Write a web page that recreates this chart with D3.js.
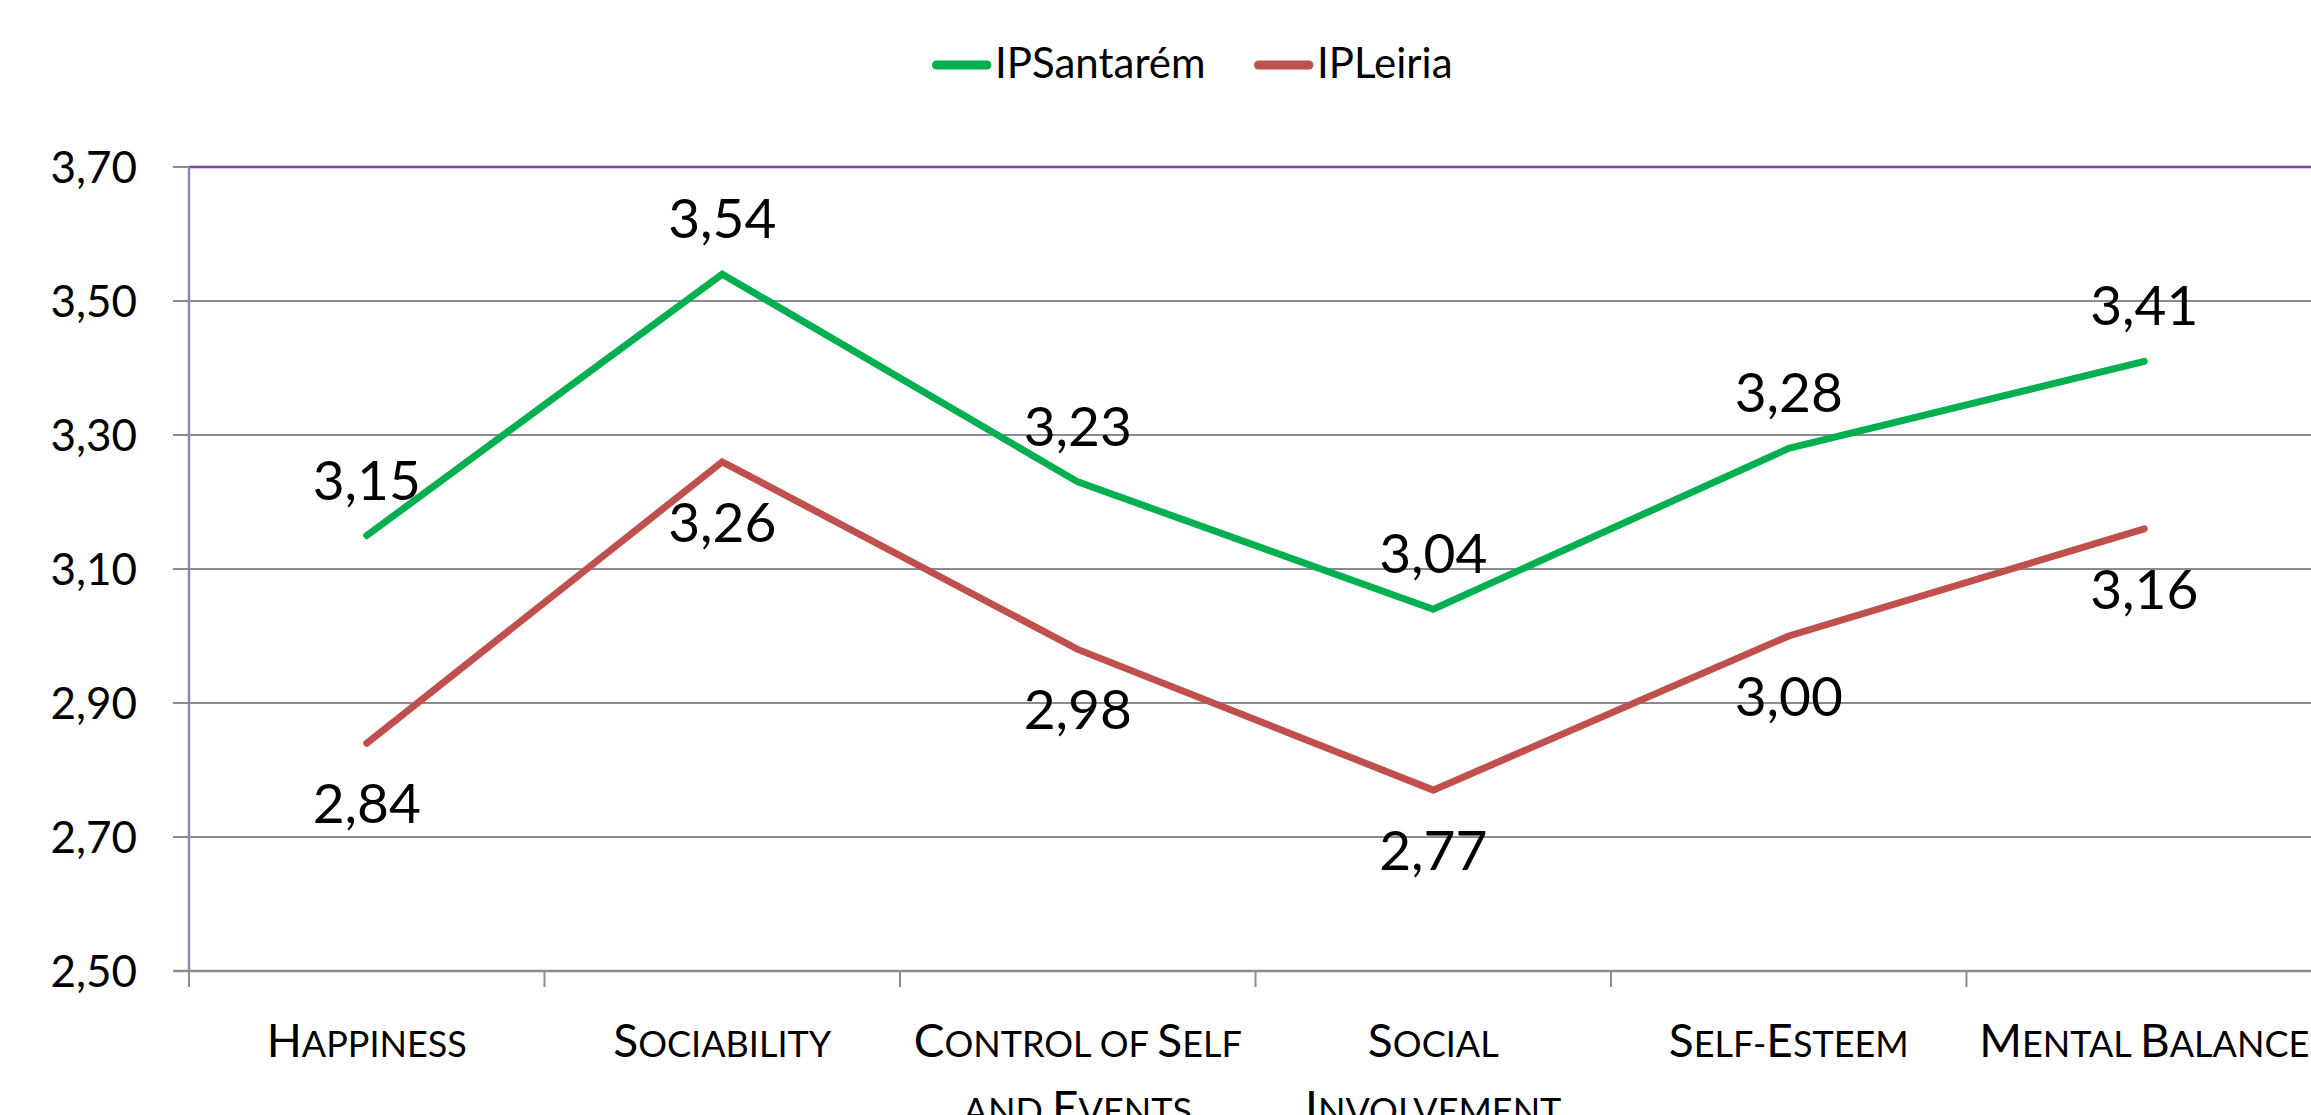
<!DOCTYPE html>
<html><head><meta charset="utf-8">
<script src="https://cdn.jsdelivr.net/npm/d3@7"></script>
<style>html,body{margin:0;padding:0;background:#fff;overflow:hidden}svg{display:block}</style>
</head><body>
<svg id="chart" width="2311" height="1115"></svg>
<script>
const categories = ["Happiness","Sociability","Control of Self\nand Events","Social\nInvolvement","Self-Esteem","Mental Balance"];
const seriesNames = ["IPSantarém","IPLeiria"];
const santarem = [3.15,3.54,3.23,3.04,3.28,3.41];
const leiria = [2.84,3.26,2.98,2.77,3.00,3.16];
const yTicks = [2.50,2.70,2.90,3.10,3.30,3.50,3.70];
const colors = ["#00B050","#C0504D"];

(function(){
const svg = d3.select("#chart");
const W = 2311;
const pLeft = 189, pRight = 189 + 6*355.5, pTop = 167, pBottom = 971;
const font = "Lato, 'Open Sans', sans-serif";

const x = d3.scaleBand().domain(categories).range([pLeft, pRight]);
const y = d3.scaleLinear().domain([2.5, 3.7]).range([pBottom, pTop]);
const fmt = v => d3.format(".2f")(v).replace(".", ",");

// gridlines (with tick stubs)
svg.append("g").selectAll("line").data(yTicks.filter(t => t > 2.5 && t < 3.7)).join("line")
  .attr("x1", pLeft - 16).attr("x2", W).attr("y1", d => y(d)).attr("y2", d => y(d))
  .attr("stroke", "#8C8C8C").attr("stroke-width", 2);
// top border
svg.append("line").attr("x1", pLeft - 16).attr("x2", pLeft).attr("y1", y(3.7)).attr("y2", y(3.7))
  .attr("stroke", "#8C8C8C").attr("stroke-width", 2);
svg.append("line").attr("x1", pLeft).attr("x2", W).attr("y1", y(3.7)).attr("y2", y(3.7))
  .attr("stroke", "#7B45AB").attr("stroke-width", 2.5);

// y axis via d3
const yAxis = d3.axisLeft(y).tickValues(yTicks).tickFormat(fmt).tickSize(0).tickPadding(52);
const gy = svg.append("g").attr("transform", `translate(${pLeft},0)`).call(yAxis);
gy.select(".domain").remove();
gy.selectAll("text").attr("font-family", font).attr("font-size", 44).attr("fill", "#000").attr("dy", "0.35em");

// x axis
const gx = svg.append("g").attr("transform", `translate(0,${pBottom})`);
gx.append("line").attr("x1", pLeft - 16).attr("x2", W).attr("stroke", "#8C8C8C").attr("stroke-width", 2.5);
const edges = categories.map(c => x(c)).concat([pRight]);
gx.selectAll("line.tk").data(edges).join("line").attr("class", "tk")
  .attr("x1", d => d).attr("x2", d => d).attr("y1", 0).attr("y2", 16)
  .attr("stroke", "#8C8C8C").attr("stroke-width", 2);

// left axis line
svg.append("line").attr("x1", pLeft).attr("x2", pLeft).attr("y1", pTop).attr("y2", pBottom)
  .attr("stroke", "#9585AE").attr("stroke-width", 2.5);

// category labels with small caps
function addSmallCaps(textSel, str, big, small) {
  const re = /([A-Z]+)|([^A-Z]+)/g; let m;
  while ((m = re.exec(str)) !== null) {
    if (m[1]) textSel.append("tspan").attr("font-size", big).text(m[1]);
    else textSel.append("tspan").attr("font-size", small).text(m[2].toUpperCase());
  }
}
categories.forEach(c => {
  const lines = c.split("\n");
  lines.forEach((ln, i) => {
    const t = svg.append("text").attr("x", x(c) + x.bandwidth()/2).attr("y", 1057 + i*67)
      .attr("text-anchor", "middle").attr("font-family", font).attr("fill", "#000");
    addSmallCaps(t, ln, 46, 36);
  });
});

// lines
const series = [santarem, leiria];
const line = d3.line().x((d, i) => x(categories[i]) + x.bandwidth()/2).y(d => y(d));
series.forEach((s, k) => {
  svg.append("path").datum(s).attr("d", line).attr("fill", "none")
    .attr("stroke", colors[k]).attr("stroke-width", 7).attr("stroke-linecap", "round").attr("stroke-linejoin", "miter");
});

// data labels
series.forEach((s, k) => {
  svg.append("g").selectAll("text").data(s).join("text")
    .attr("x", (d, i) => x(categories[i]) + x.bandwidth()/2)
    .attr("y", d => k === 0 ? y(d) - 36 : y(d) + 80)
    .attr("text-anchor", "middle").attr("font-family", font).attr("font-size", 55).attr("fill", "#000")
    .text(d => fmt(d));
});

// legend
const legendX = [932, 1254];
seriesNames.forEach((n, k) => {
  svg.append("line").attr("x1", legendX[k] + 4.5).attr("x2", legendX[k] + 55).attr("y1", 65).attr("y2", 65)
    .attr("stroke", colors[k]).attr("stroke-width", 9).attr("stroke-linecap", "round");
  svg.append("text").attr("x", legendX[k] + 63).attr("y", 78).attr("font-family", font).attr("font-size", 42)
    .attr("fill", "#000").text(n);
});
})();
</script>
</body></html>
